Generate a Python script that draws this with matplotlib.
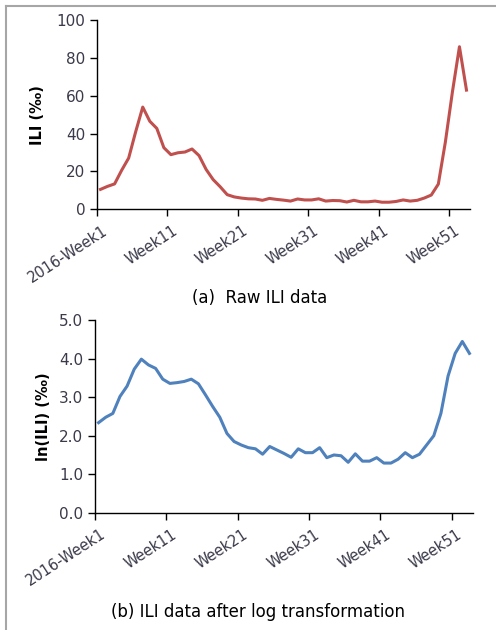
import numpy as np
import matplotlib
matplotlib.use("Agg")
from matplotlib import pyplot as plt
from matplotlib.lines import Line2D
from matplotlib.transforms import ScaledTranslation

# weekly ILI rate, 2016 week 1 .. 53
ili_raw = [10.4, 12.0, 13.3, 20.5, 27.0, 41.0, 54.0, 46.5, 42.7, 32.5,
           28.8, 29.8, 30.2, 31.8, 28.3, 21.0, 15.6, 11.8, 7.6, 6.4,
           5.8, 5.4, 5.3, 4.6, 5.6, 5.1, 4.7, 4.2, 5.3, 4.8,
           4.8, 5.4, 4.2, 4.5, 4.4, 3.7, 4.6, 3.8, 3.8, 4.2,
           3.6, 3.6, 4.0, 4.8, 4.2, 4.6, 5.8, 7.4, 13.2, 35.5,
           62.0, 86.0, 63.0]
ili_log = [2.34, 2.48, 2.58, 3.02, 3.29, 3.73, 3.99, 3.84, 3.75, 3.47,
           3.36, 3.38, 3.41, 3.47, 3.35, 3.06, 2.76, 2.48, 2.06, 1.85,
           1.76, 1.69, 1.66, 1.52, 1.72, 1.63, 1.54, 1.44, 1.66, 1.56,
           1.56, 1.69, 1.43, 1.50, 1.48, 1.31, 1.53, 1.34, 1.34, 1.43,
           1.29, 1.29, 1.39, 1.56, 1.43, 1.52, 1.76, 2.00, 2.58, 3.55,
           4.14, 4.45, 4.14]
week_labels = ["2016-Week1", "Week11", "Week21", "Week31", "Week41", "Week51"]

n = len(ili_raw)
x = np.arange(n)
tick_pos = np.arange(0, n, 10) - 0.5

fig = plt.figure(figsize=(4.96, 6.3), dpi=100)
fig.patch.set_facecolor("white")

# outer frame (top and left edges)
fig.add_artist(Line2D([6 / 496, 1], [1 - 6 / 630, 1 - 6 / 630], color="#a6a6a6", lw=1.5))
fig.add_artist(Line2D([6 / 496, 6 / 496], [0, 1 - 6 / 630], color="#a6a6a6", lw=1.5))

tick_color = "#3a3a4a"
shift = ScaledTranslation(5 / 100, 0, fig.dpi_scale_trans)


def style_axes(ax):
    for side in ("top", "right"):
        ax.spines[side].set_visible(False)
    for side in ("left", "bottom"):
        ax.spines[side].set_color("black")
        ax.spines[side].set_linewidth(1.0)
    ax.set_xlim(-0.5, n - 0.5)
    ax.set_xticks(tick_pos)
    ax.set_xticklabels(week_labels, rotation=33, ha="right", rotation_mode="anchor")
    ax.tick_params(axis="both", direction="out", length=5, width=1, labelsize=11,
                   labelcolor=tick_color)
    ax.tick_params(axis="x", pad=5, labelsize=10.5)
    for lbl in ax.get_xticklabels():
        lbl.set_transform(lbl.get_transform() + shift)


ax1 = fig.add_axes([97 / 496, 1 - 209 / 630, 373 / 496, (209 - 20.3) / 630])
ax1.plot(x, ili_raw, color="#c0504d", lw=2.2, solid_joinstyle="round")
ax1.set_ylim(0, 100)
ax1.set_yticks(np.arange(0, 101, 20))
ax1.set_ylabel("ILI (‰)", fontsize=10.5, fontweight="bold", labelpad=8)
style_axes(ax1)
fig.text(260 / 496, 1 - 298 / 630, "(a)  Raw ILI data", ha="center", va="center",
         fontsize=12)

ax2 = fig.add_axes([95 / 496, 1 - 512.7 / 630, 378 / 496, (512.7 - 320.3) / 630])
ax2.plot(x, ili_log, color="#4f81bd", lw=2.2, solid_joinstyle="round")
ax2.set_ylim(0, 5)
ax2.set_yticks(np.arange(0, 5.1, 1.0))
ax2.set_yticklabels([f"{v:.1f}" for v in np.arange(0, 5.1, 1.0)])
ax2.set_ylabel("ln(ILI) (‰)", fontsize=10.5, fontweight="bold", labelpad=6)
style_axes(ax2)
fig.text(258 / 496, 1 - 612 / 630, "(b) ILI data after log transformation",
         ha="center", va="center", fontsize=12)

fig.savefig("out.png", dpi=100)
